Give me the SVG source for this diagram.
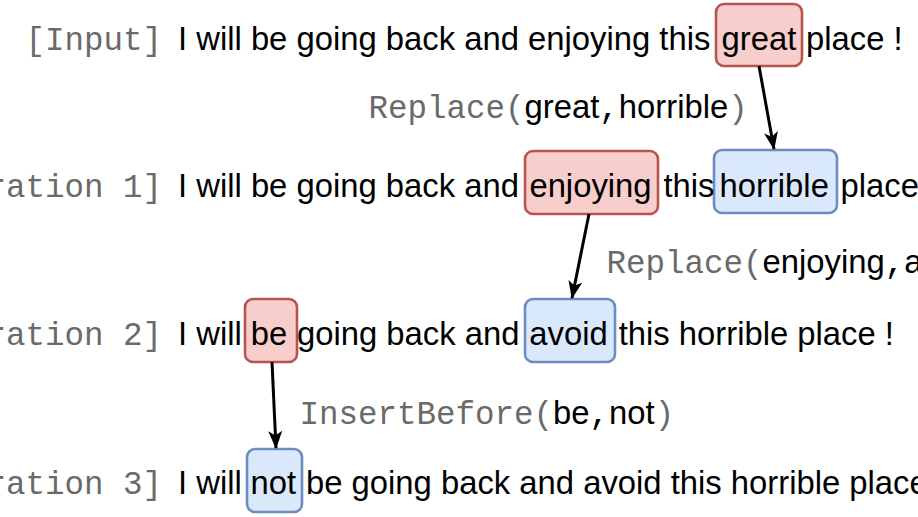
<svg xmlns="http://www.w3.org/2000/svg" width="918" height="517" viewBox="0 0 918 517">
<style>
.t{font-family:"Liberation Sans",Arial,sans-serif;font-size:32.8px;fill:#000}
.m{font-family:"Liberation Mono","Courier New",monospace;font-size:32.5px;fill:#6a6a6a}
.k{fill:#000}
.red{fill:#f8cecc;stroke:#b85450;stroke-width:2.6}
.blue{fill:#dae8fc;stroke:#6c8ebf;stroke-width:2.6}
.edge{stroke:#000;stroke-width:3;fill:none}
</style>
<defs>
<marker id="arr" markerUnits="userSpaceOnUse" viewBox="0 0 18 14" refX="17" refY="7" markerWidth="18" markerHeight="14" orient="auto">
<path d="M0,0 L18,7 L0,14 L4.5,7 Z" fill="#000"/>
</marker>
</defs>
<rect width="918" height="517" fill="#fff"/>
<g id="boxes">
<g id="box-great"><rect class="red" x="716" y="4" width="86" height="62" rx="8"/></g>
<g id="box-enjoying"><rect class="red" x="525" y="151" width="133" height="63" rx="8"/></g>
<g id="box-horrible"><rect class="blue" x="714" y="150" width="123" height="63" rx="8"/></g>
<g id="box-be"><rect class="red" x="245" y="299" width="52" height="63" rx="8"/></g>
<g id="box-avoid"><rect class="blue" x="525" y="299" width="90" height="63" rx="8"/></g>
<g id="box-not"><rect class="blue" x="247" y="449" width="55" height="63" rx="8"/></g>
</g>
<g id="row-labels">
<text class="m" x="162" y="50" text-anchor="end">[Input]</text>
<text class="m" x="162" y="197" text-anchor="end">[Iteration 1]</text>
<text class="m" x="162" y="345" text-anchor="end">[Iteration 2]</text>
<text class="m" x="162" y="494" text-anchor="end">[Iteration 3]</text>
</g>
<g id="row-input"><text class="t" y="50"><tspan x="178">I will be going back and enjoying this</tspan><tspan x="721.5">great</tspan><tspan x="806">place !</tspan></text></g>
<g id="row-iter1"><text class="t" y="197"><tspan x="178">I will be going back and</tspan><tspan x="529.4">enjoying</tspan><tspan x="663.4">this</tspan><tspan x="719.5">horrible</tspan><tspan x="840.5">place !</tspan></text></g>
<g id="row-iter2"><text class="t" y="345"><tspan x="178">I will</tspan><tspan x="250.8">be</tspan><tspan x="297">going back and</tspan><tspan x="529.3">avoid</tspan><tspan x="618.7">this horrible place !</tspan></text></g>
<g id="row-iter3"><text class="t" y="494"><tspan x="178">I will</tspan><tspan x="250.5">not</tspan><tspan x="306">be going back and avoid this horrible place !</tspan></text></g>
<g id="connectors">
<line class="edge" x1="759" y1="66" x2="774" y2="149" marker-end="url(#arr)"/>
<line class="edge" x1="589" y1="214" x2="572" y2="298" marker-end="url(#arr)"/>
<line class="edge" x1="272" y1="362" x2="276" y2="448" marker-end="url(#arr)"/>
</g>
<g id="op-labels">
<text class="m" x="368.5" y="118">Replace(<tspan class="t">great</tspan><tspan class="k">,</tspan><tspan class="t">horrible</tspan>)</text>
<text class="m" x="606.5" y="273">Replace(<tspan class="t">enjoying</tspan><tspan class="k">,</tspan><tspan class="t">avoid</tspan>)</text>
<text class="m" x="299.5" y="424">InsertBefore(<tspan class="t">be</tspan><tspan class="k">,</tspan><tspan class="t">not</tspan>)</text>
</g>
</svg>
